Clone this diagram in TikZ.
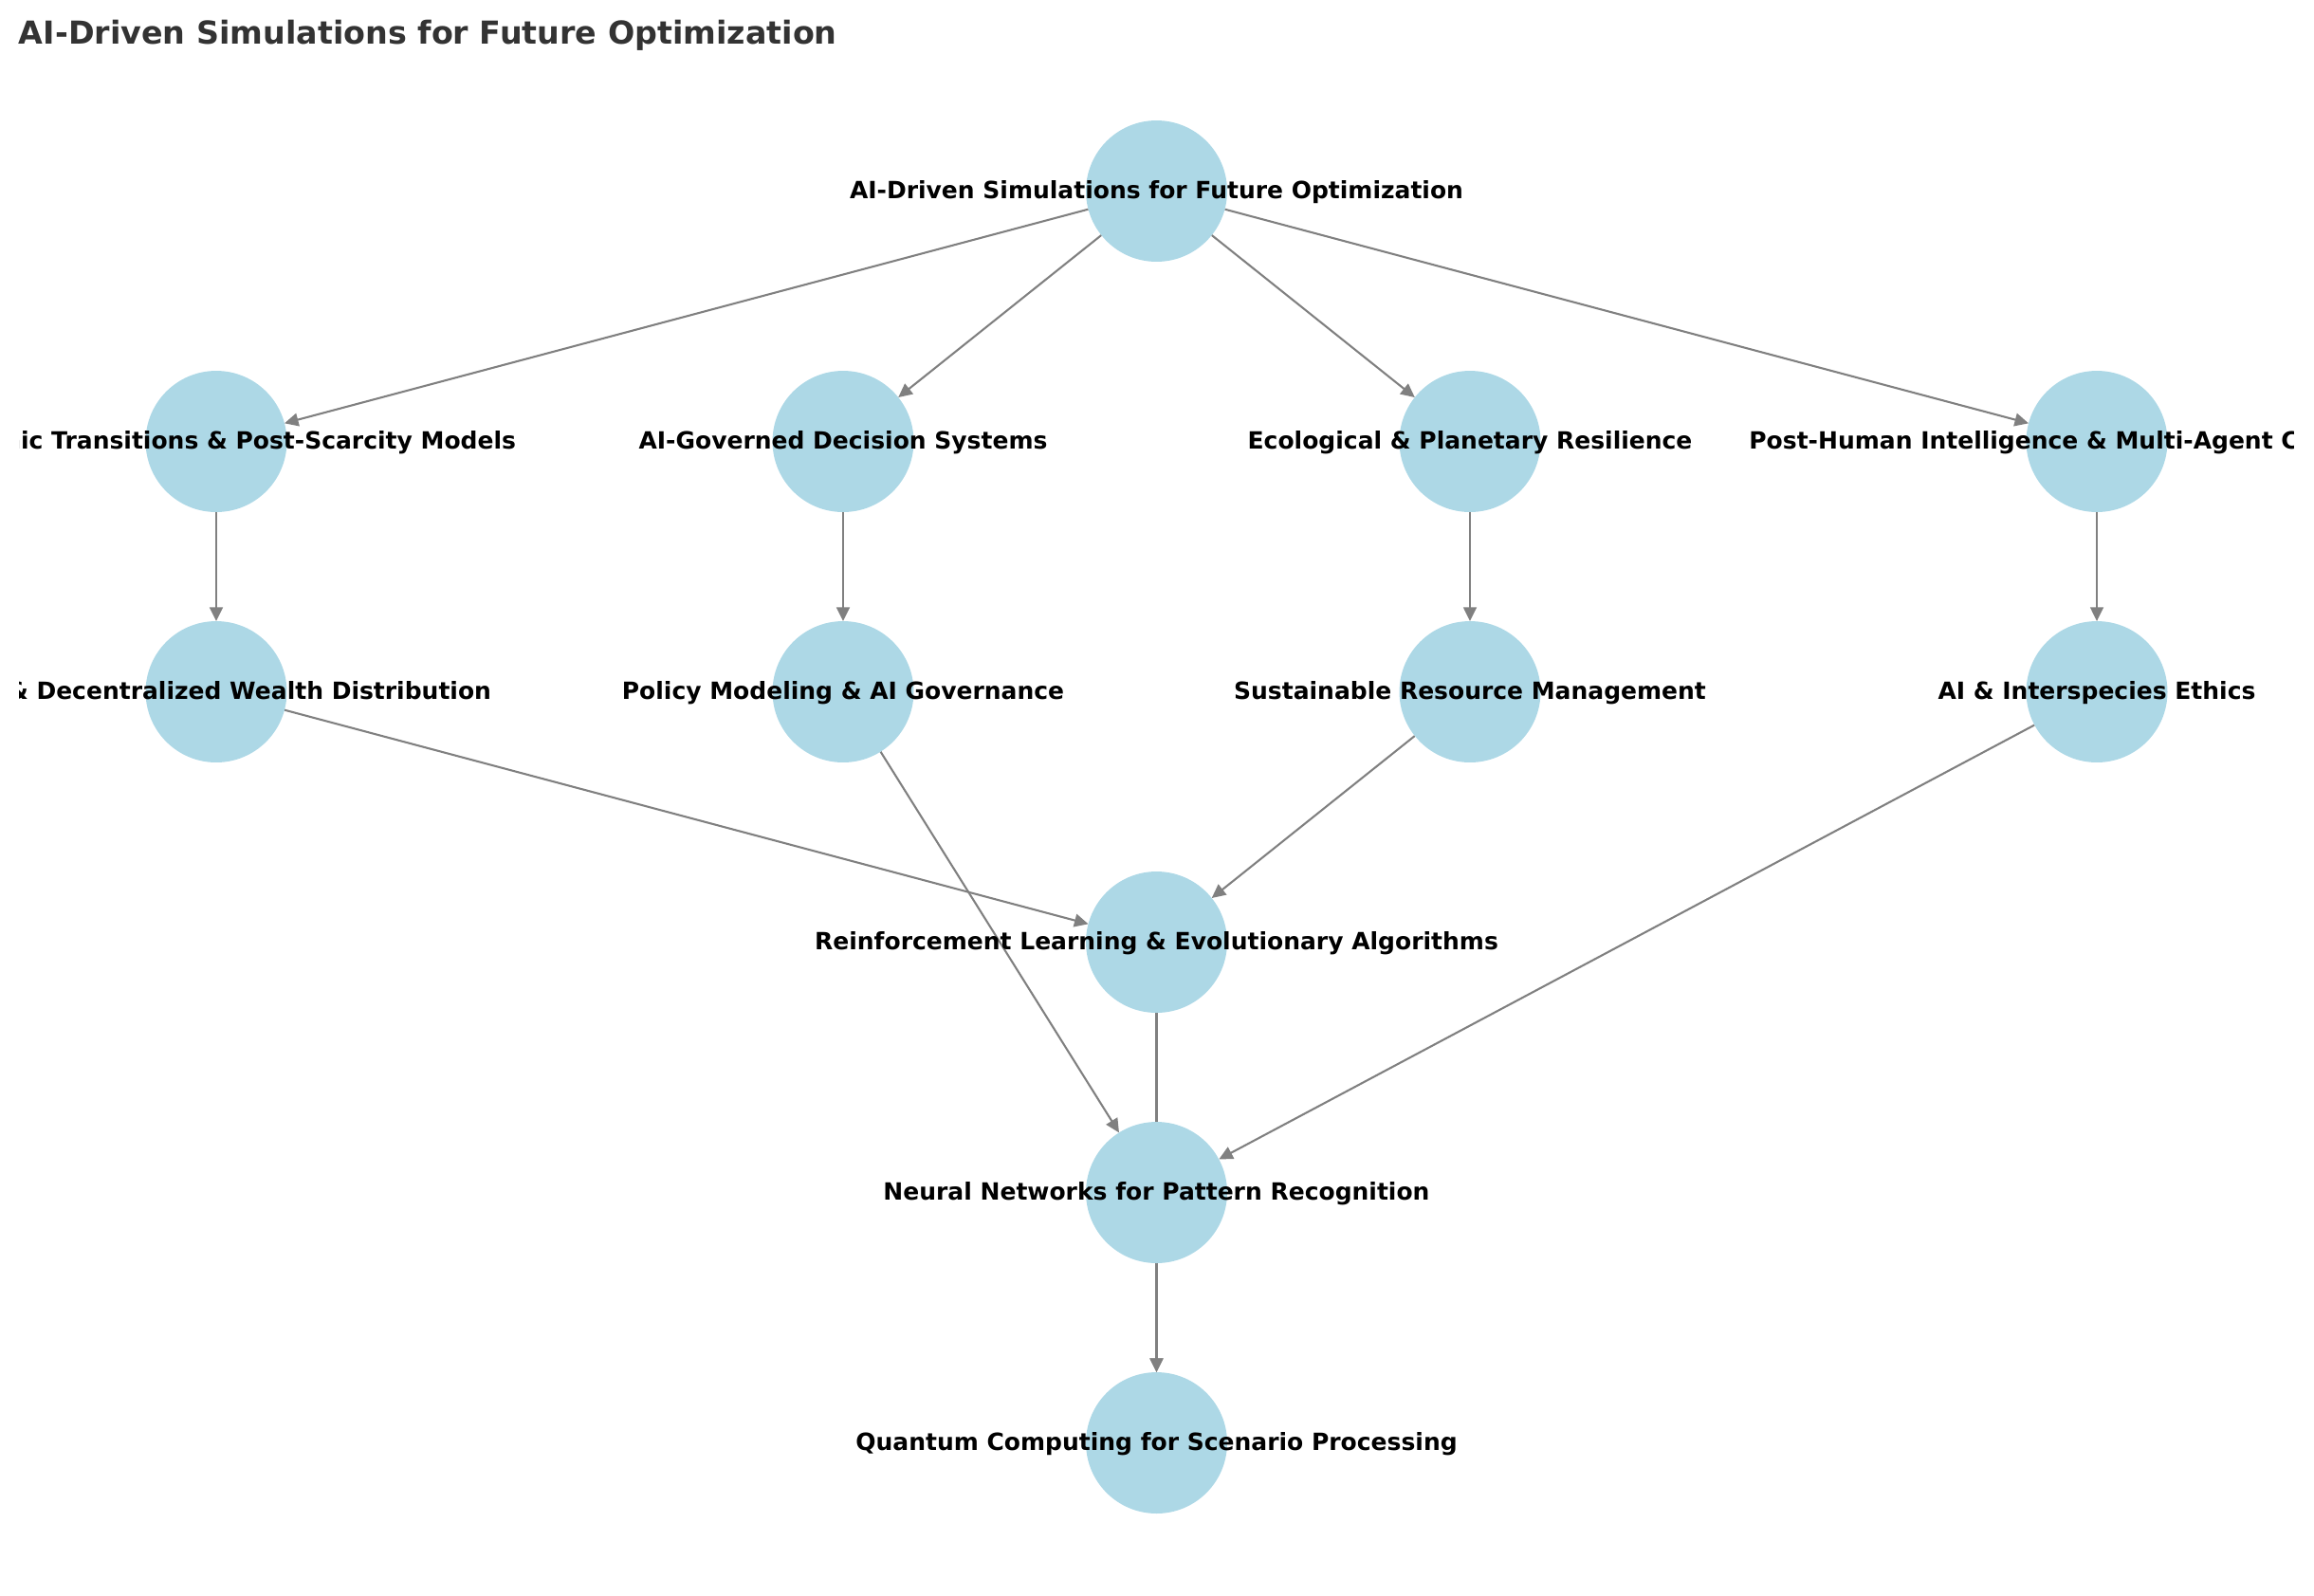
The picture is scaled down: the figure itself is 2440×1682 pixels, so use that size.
\documentclass[tikz,border=0pt]{standalone}
\usepackage{fontspec}
\setmainfont{DejaVu Sans}
\usepackage{xcolor}
\usetikzlibrary{arrows.meta,backgrounds}
\definecolor{nodeblue}{HTML}{ADD8E6}
\definecolor{edgegray}{HTML}{808080}
\definecolor{titlegray}{HTML}{333333}

\begin{document}
\begin{tikzpicture}[x=0.48pt,y=0.48pt]
\tikzstyle{every node}+=[inner sep=0pt, outer sep=0pt]
\tikzstyle{ball}=[circle, fill=nodeblue, minimum size=71.5pt]
\tikzstyle{lbl}=[font=\fontsize{12}{14}\selectfont\bfseries, text height=9.5pt, text depth=1.8pt]
\tikzstyle{edge}=[edgegray, line width=1pt, -{Triangle[length=7pt,width=6.6pt]}]
\useasboundingbox (0,0) rectangle (2440,-1682);
\node [anchor=base west, text=titlegray, font=\fontsize{16}{19}\selectfont\bfseries] (title) at (20,-46.5) {AI-Driven Simulations for Future Optimization};
\begin{scope}
\clip (20,0) rectangle (2418,-1682);
% top
\node [ball, label={[lbl]center:AI-Driven Simulations for Future Optimization}] (root) at (1219.5,-201.5) {};
% second row
\node [ball, label={[lbl]center:Economic Transitions \& Post-Scarcity Models}] (econ) at (228,-465.5) {};
\node [ball, label={[lbl]center:AI-Governed Decision Systems}] (gov) at (889,-465.5) {};
\node [ball, label={[lbl]center:Ecological \& Planetary Resilience}] (eco) at (1550,-465.5) {};
\node [ball, label={[lbl]center:Post-Human Intelligence \& Multi-Agent Cooperation}] (post) at (2211,-465.5) {};
% third row
\node [ball, label={[lbl]center:DAO \& Decentralized Wealth Distribution}] (wealth) at (228,-729.5) {};
\node [ball, label={[lbl]center:Policy Modeling \& AI Governance}] (policy) at (889,-729.5) {};
\node [ball, label={[lbl]center:Sustainable Resource Management}] (resource) at (1550,-729.5) {};
\node [ball, label={[lbl]center:AI \& Interspecies Ethics}] (ethics) at (2211,-729.5) {};
% methods
\node [ball, label={[lbl]center:Reinforcement Learning \& Evolutionary Algorithms}] (rl) at (1219.5,-993.5) {};
\node [ball, label={[lbl]center:Neural Networks for Pattern Recognition}] (nn) at (1219.5,-1257.5) {};
\node [ball, label={[lbl]center:Quantum Computing for Scenario Processing}] (qc) at (1219.5,-1521.5) {};
\begin{pgfonlayer}{background}
\draw [edge] (root) -- (econ);
\draw [edge] (root) -- (gov);
\draw [edge] (root) -- (eco);
\draw [edge] (root) -- (post);
\draw [edge] (econ) -- (wealth);
\draw [edge] (gov) -- (policy);
\draw [edge] (eco) -- (resource);
\draw [edge] (post) -- (ethics);
\draw [edge] (wealth) -- (rl);
\draw [edge] (resource) -- (rl);
\draw [edge] (policy) -- (nn);
\draw [edge] (ethics) -- (nn);
\draw [edge] (rl) -- (qc);
\draw [edge] (nn) -- (qc);
\end{pgfonlayer}
\end{scope}
\end{tikzpicture}
\end{document}
